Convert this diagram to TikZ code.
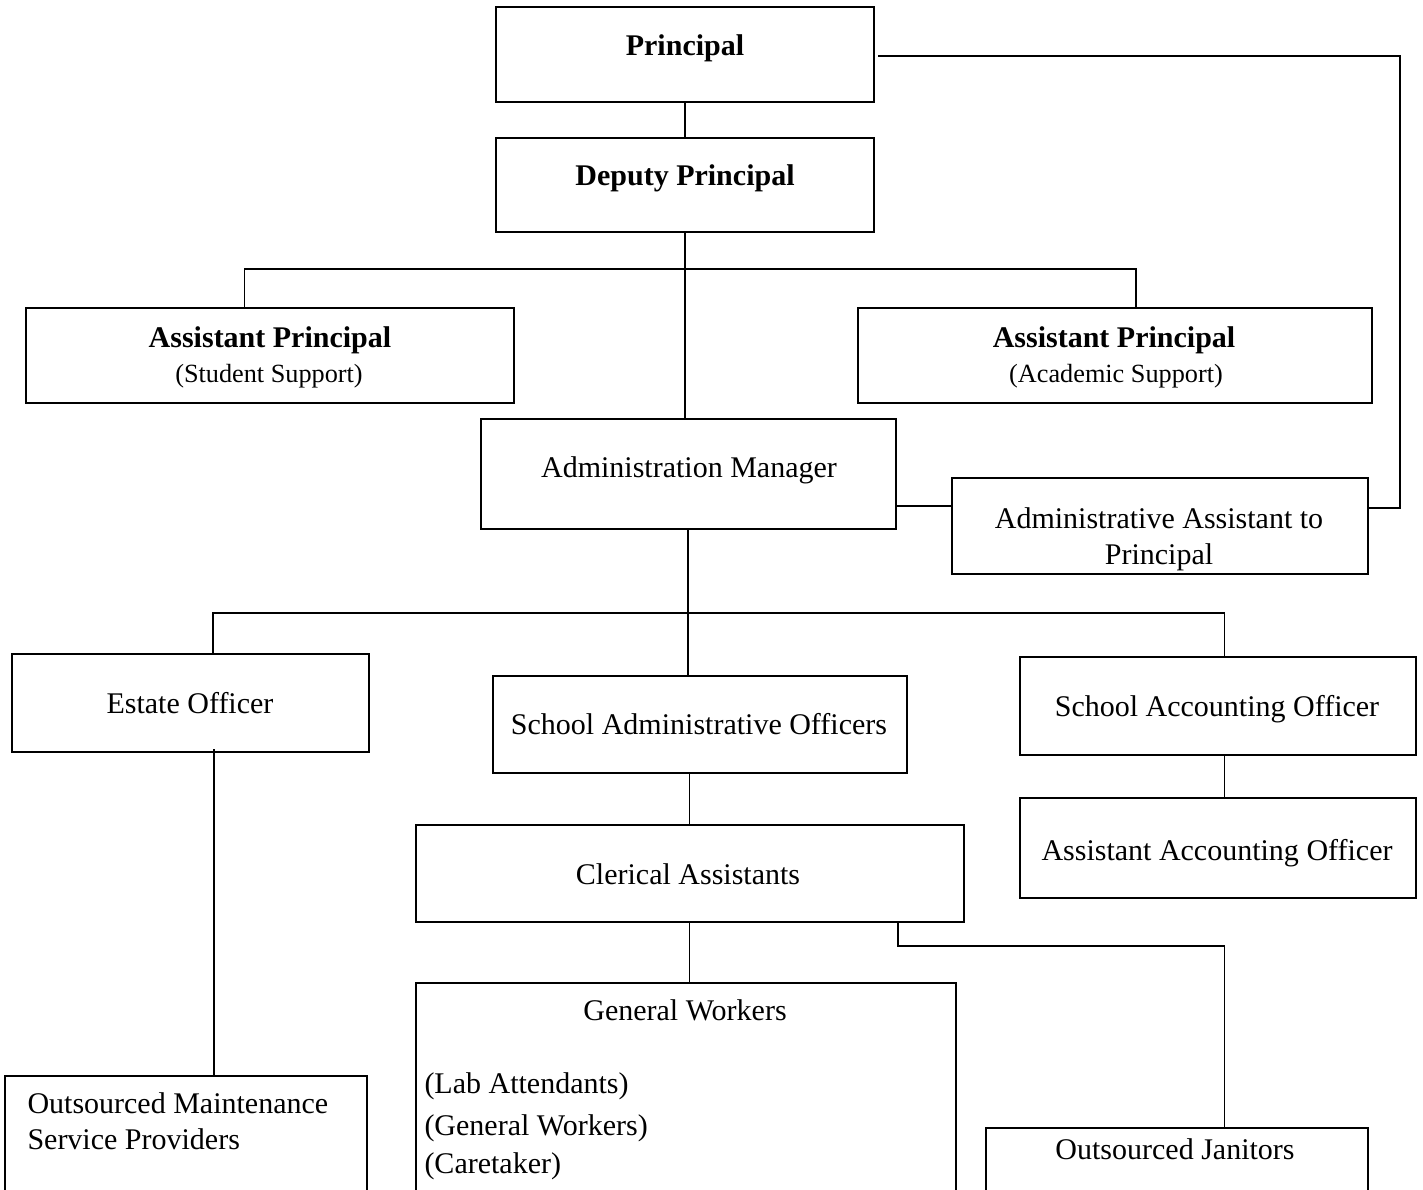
\documentclass[tikz,border=0pt]{standalone}
\usepackage{fontspec}
\setmainfont{Liberation Serif}
\newlength{\du}
\setlength{\du}{0.4pt}
\definecolor{dialinecolor}{rgb}{0.000000, 0.000000, 0.000000}
\tikzset{
  orgbox/.style={draw=dialinecolor, line width=2\du, rectangle, inner sep=0pt},
  orgtext/.style={anchor=base, inner sep=0pt, text=dialinecolor, font=\fontsize{12}{14}\selectfont},
  orgleft/.style={orgtext, anchor=base west},
  orgsub/.style={orgtext, font=\fontsize{10.5}{12}\selectfont},
  orgline/.style={draw=dialinecolor, line width=1.7\du},
}
\begin{document}
\begin{tikzpicture}
\pgftransformxscale{1.000000}
\pgftransformyscale{-1.000000}
\useasboundingbox (0\du,0\du) rectangle (1423\du,1190\du);
\clip (0\du,0\du) rectangle (1423\du,1190\du);
% top of the chart
\node[orgbox, minimum width=378\du, minimum height=95\du] (prin) at (685\du,55\du){};
\node[orgtext] (prinT) at (685\du,55.5\du){\textbf{Principal}};
\node[orgbox, minimum width=378\du, minimum height=94.5\du] (deputy) at (685\du,185\du){};
\node[orgtext] (deputyT) at (685\du,186\du){\textbf{Deputy Principal}};
\node[orgbox, minimum width=487.6\du, minimum height=95\du] (apstud) at (270.2\du,356\du){};
\node[orgtext] (apstudT) at (270\du,347.5\du){\textbf{Assistant Principal}};
\node[orgsub] (apstudS) at (269\du,383\du){(Student Support)};
\node[orgbox, minimum width=514\du, minimum height=95\du] (apacad) at (1115\du,356\du){};
\node[orgtext] (apacadT) at (1114\du,347.5\du){\textbf{Assistant Principal}};
\node[orgsub] (apacadS) at (1116\du,383\du){(Academic Support)};
% administration
\node[orgbox, minimum width=414.5\du, minimum height=110\du] (adminmgr) at (688.25\du,474\du){};
\node[orgtext] (adminmgrT) at (689\du,477.6\du){Administration Manager};
\node[orgbox, minimum width=416\du, minimum height=96\du] (adminasst) at (1160\du,526\du){};
\node[orgtext] (adminasstT) at (1159\du,528\du){Administrative Assistant to};
\node[orgtext] (adminasstU) at (1159\du,564.5\du){Principal};
% officers
\node[orgbox, minimum width=357\du, minimum height=98\du] (estate) at (190.5\du,703\du){};
\node[orgtext] (estateT) at (190\du,713\du){Estate Officer};
\node[orgbox, minimum width=414\du, minimum height=96.7\du] (schadmin) at (700\du,724.3\du){};
\node[orgtext] (schadminT) at (699\du,734\du){School Administrative Officers};
\node[orgbox, minimum width=396\du, minimum height=98\du] (schacct) at (1218\du,705.7\du){};
\node[orgtext] (schacctT) at (1217\du,716\du){School Accounting Officer};
\node[orgbox, minimum width=396\du, minimum height=99.7\du] (asstacct) at (1218\du,847.85\du){};
\node[orgtext] (asstacctT) at (1217\du,860\du){Assistant Accounting Officer};
\node[orgbox, minimum width=548\du, minimum height=97.3\du] (clerical) at (689.5\du,873.65\du){};
\node[orgtext] (clericalT) at (688\du,884\du){Clerical Assistants};
% bottom row, cut by the page edge
\node[orgbox, minimum width=362.5\du, minimum height=124\du] (outmaint) at (185.75\du,1138\du){};
\node[orgleft] (outmaintT) at (27\du,1113\du){Outsourced Maintenance};
\node[orgleft] (outmaintU) at (27\du,1149\du){Service Providers};
\node[orgbox, minimum width=540.5\du, minimum height=217.3\du] (genwork) at (685.75\du,1091.35\du){};
\node[orgtext] (genworkT) at (685\du,1020\du){General Workers};
\node[orgleft] (genworkA) at (424\du,1093\du){(Lab Attendants)};
\node[orgleft] (genworkB) at (424\du,1135\du){(General Workers)};
\node[orgleft] (genworkC) at (424\du,1173\du){(Caretaker)};
\node[orgbox, minimum width=382\du, minimum height=72\du] (janitors) at (1177\du,1164\du){};
\node[orgtext] (janitorsT) at (1175\du,1159\du){Outsourced Janitors};
% bends of the connectors
\coordinate (barL) at (244.5\du,269\du);
\coordinate (barR) at (1136\du,269\du);
\coordinate (amaa) at (0\du,506\du);
\coordinate (paA) at (1400\du,56\du);
\coordinate (paB) at (1400\du,508\du);
\coordinate (barbL) at (213\du,613\du);
\coordinate (barbR) at (1224.5\du,613\du);
\coordinate (estX) at (214\du,0\du);
\coordinate (cjA) at (898\du,946\du);
\coordinate (cjB) at (1224.5\du,946\du);
% connectors
\draw[orgline] (prin.south) -- (deputy.north);
\draw[orgline] (deputy.south) -- (deputy.south |- adminmgr.north);
\draw[orgline] (apstud.north -| barL) -- (barL) -- (barR) -- (apacad.north -| barR);
\draw[orgline] (adminmgr.east |- amaa) -- (adminasst.west |- amaa);
\draw[orgline] ([xshift=3\du]prin.east |- paA) -- (paA) -- (paB) -- (adminasst.east |- paB);
\draw[orgline] (adminmgr.south) -- (adminmgr.south |- schadmin.north);
\draw[orgline] (estate.north -| barbL) -- (barbL) -- (barbR) -- (schacct.north -| barbR);
\draw[orgline] (schacct.south -| barbR) -- (asstacct.north -| barbR);
\draw[orgline] (clerical.north |- schadmin.south) -- (clerical.north);
\draw[orgline] ([yshift=-4\du]estate.south -| estX) -- (outmaint.north -| estX);
\draw[orgline] (clerical.south) -- (clerical.south |- genwork.north);
\draw[orgline] (clerical.south -| cjA) -- (cjA) -- (cjB) -- (janitors.north -| cjB);
\end{tikzpicture}
\end{document}
